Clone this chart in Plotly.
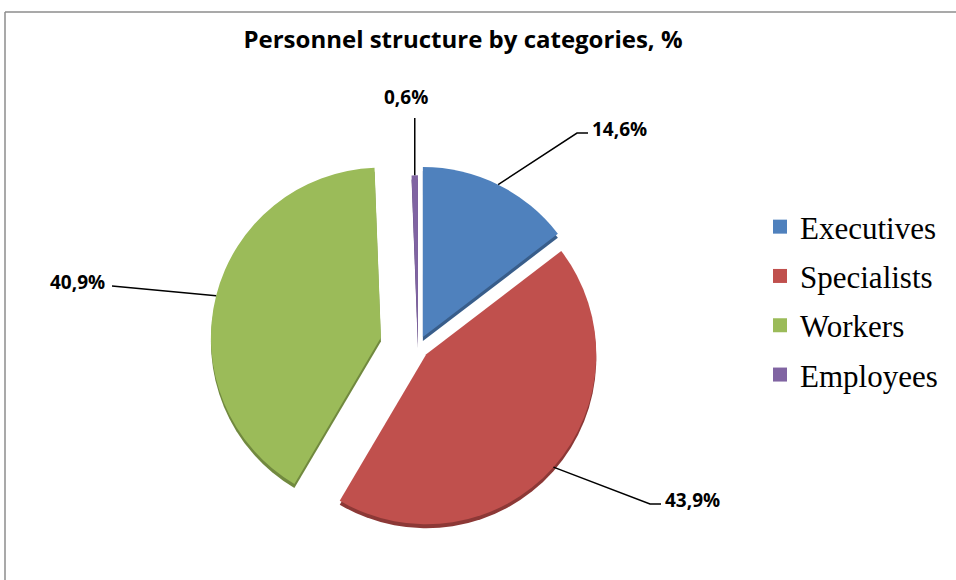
import math
import plotly.graph_objects as go

# Staff categories and their share of headcount, %
categories = ["Executives", "Specialists", "Workers", "Employees"]
shares = [14.6, 43.9, 40.9, 0.6]
colors = ["#4F81BD", "#C0504D", "#9BBB59", "#8064A2"]
rim_colors = ["#385D8A", "#8C3836", "#71893F", "#5C4776"]
pulls = [0.065, 0.065, 0.225, 0.01]

W, H = 956, 580
title = "Personnel structure by categories, %"

# Pie geometry in pixels (unpulled centre and radius)
cx, cy, R = 418, 347, 170
half = R * (1 + max(pulls))
depth = 4  # thickness of the darker rim under the top face


def px(x):
    return x / W


def py(y):
    return 1 - y / H


fig = go.Figure()

# Darker copy of the pie slightly lower gives the slices a bevelled edge
for face, dy in ((rim_colors, depth), (colors, 0)):
    fig.add_trace(go.Pie(
        labels=categories,
        values=shares,
        marker=dict(colors=face, line=dict(width=0)),
        pull=pulls,
        sort=False,
        direction="clockwise",
        rotation=0,
        textinfo="none",
        showlegend=False,
        hoverinfo="skip" if dy else "label+percent",
        domain=dict(x=[px(cx - half), px(cx + half)],
                    y=[py(cy + dy + half), py(cy + dy - half)]),
    ))

# Legend entries as square markers
for name, col in zip(categories, colors):
    fig.add_trace(go.Scatter(
        x=[None], y=[None], mode="markers", name=name, legendgroup=name,
        marker=dict(symbol="square", size=14, color=col),
    ))

# Value labels with leader lines: anchor on the slice rim at its mid-angle
label_pos = {  # (elbow x, elbow y, label x, label y, anchor)
    "Executives": (577, 133, 590, 129, "left"),
    "Specialists": (650, 504, 663, 500, "left"),
    "Workers": (112, 286, 107, 282, "right"),
    "Employees": (412, 118, 406, 97, "center"),
}

shapes = []
annotations = []
cum = 0.0
total = sum(shares)
for name, val, pl in zip(categories, shares, pulls):
    mid = (cum + val / 2) / total * 2 * math.pi
    cum += val
    dx, dy = math.sin(mid), -math.cos(mid)
    ax = cx + dx * R * (1 + pl)
    ay = cy + dy * R * (1 + pl)
    ex, ey, lx, ly, anchor = label_pos[name]
    if anchor == "center":
        path = f"M {px(ax)} {py(ay)} L {px(ax)} {py(ey)}"
    elif anchor == "left":
        path = f"M {px(ax)} {py(ay)} L {px(ex)} {py(ey)} L {px(ex + 11)} {py(ey)}"
    else:
        path = f"M {px(ax)} {py(ay)} L {px(ex)} {py(ey)}"
    shapes.append(dict(type="path", xref="paper", yref="paper", path=path,
                       line=dict(color="black", width=1.5)))
    annotations.append(dict(
        x=px(lx), y=py(ly), xref="paper", yref="paper", showarrow=False,
        text=f"<b>{val:.1f}%</b>".replace(".", ","),
        xanchor=anchor, yanchor="middle",
        font=dict(family="Open Sans", size=19, color="black"),
    ))

# Chart frame
shapes.append(dict(type="line", xref="paper", yref="paper", x0=px(5), x1=1.0,
                   y0=py(12), y1=py(12), line=dict(color="#8c8c8c", width=1.5)))
shapes.append(dict(type="line", xref="paper", yref="paper", x0=px(5), x1=px(5),
                   y0=py(12), y1=0.0, line=dict(color="#8c8c8c", width=1.5)))

fig.update_layout(
    width=W, height=H,
    margin=dict(l=0, r=0, t=0, b=0),
    paper_bgcolor="white", plot_bgcolor="white",
    title=dict(text=f"<b>{title}</b>", x=px(463), xanchor="center",
               y=py(40), yanchor="middle",
               font=dict(family="Open Sans", size=24, color="black")),
    xaxis=dict(visible=False), yaxis=dict(visible=False),
    legend=dict(x=px(760), y=py(200), xanchor="left", yanchor="top",
                font=dict(family="Liberation Serif", size=31, color="black"),
                tracegroupgap=6, itemsizing="trace", bgcolor="rgba(0,0,0,0)"),
    shapes=shapes,
    annotations=annotations,
)

fig.write_html("out.html")
